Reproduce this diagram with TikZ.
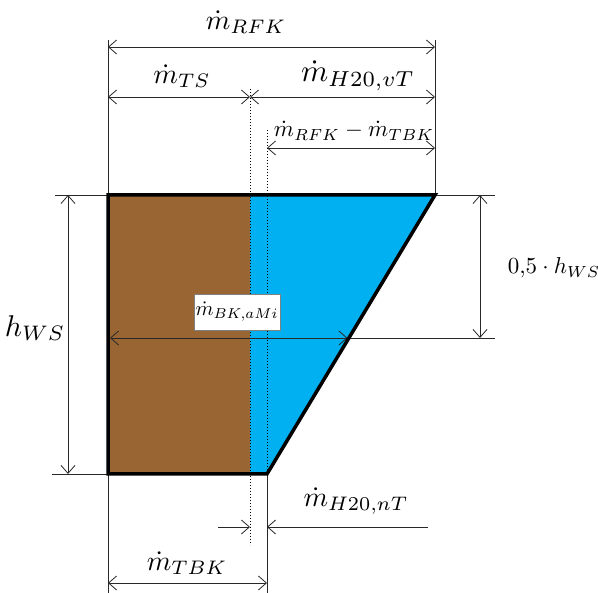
\documentclass[tikz,border=0pt]{standalone}
\usetikzlibrary{arrows.meta}
\definecolor{brownc}{RGB}{153,102,51}
\definecolor{bluec}{RGB}{0,176,240}
\definecolor{dimc}{RGB}{40,40,40}
\tikzset{
  >={Straight Barb[length=8pt,width=14pt]},
  dimline/.style={draw=dimc, line width=0.8pt},
  dimarrow/.style={dimline, <->},
  dotline/.style={draw=black, line width=1pt, dotted},
  label/.style={inner sep=0pt, anchor=center, text=black},
  sz/.style={scale=#1, transform shape},
  outline/.style={draw=black, line width=3.5pt, line join=miter}
}
\begin{document}
\begin{tikzpicture}[x=1pt,y=-1pt]
\useasboundingbox (0,0) rectangle (598,593);
% shape corners
\coordinate (TL) at (108,195);
\coordinate (TR) at (435,195);
\coordinate (BR) at (267,474);
\coordinate (BL) at (108,474);
\coordinate (TM) at (250,195);
\coordinate (BM) at (250,474);
\coordinate (MM) at (347.5,338);
% fills
\fill[brownc] (TL) rectangle (BM);
\fill[bluec] (TM) -- (TR) -- (BR) -- (BM) -- cycle;
% dotted lines
\coordinate (d1a) at (250,89);  \coordinate (d1b) at (250,545);
\coordinate (d2a) at (267,130); \coordinate (d2b) at (267,474);
\draw[dotline] (d1a) -- (d1b);
\draw[dotline] (d2a) -- (d2b);
% top extension lines and dims
\coordinate (eL) at (108,40); \coordinate (eR) at (435,40);
\draw[dimline] (eL) -- (TL);
\draw[dimline] (eR) -- (TR);
\coordinate (a1) at (108,47); \coordinate (a2) at (435,47);
\draw[dimarrow] (a1) -- (a2);
\coordinate (b1) at (108,97); \coordinate (b2) at (250,97); \coordinate (b3) at (435,97);
\draw[dimarrow] (b1) -- (b2);
\draw[dimarrow] (b2) -- (b3);
\coordinate (c1) at (267,148); \coordinate (c2) at (435,148);
\draw[dimarrow] (c1) -- (c2);
% left dimension
\coordinate (lt) at (55,195); \coordinate (lb) at (52,474);
\draw[dimline] (lt) -- (TL);
\draw[dimline] (lb) -- (BL);
\coordinate (la) at (68,195); \coordinate (lbb) at (68,474);
\draw[dimarrow] (la) -- (lbb);
% right dimension
\coordinate (rt) at (495,195); \coordinate (rm) at (495,338);
\draw[dimline] (TR) -- (rt);
\draw[dimline] (MM) -- (rm);
\coordinate (ra) at (480,195); \coordinate (rb) at (480,338);
\draw[dimarrow] (ra) -- (rb);
% middle arrow
\coordinate (m1) at (110,338);
\draw[dimarrow] (m1) -- (MM);
% bottom
\coordinate (bl) at (108,593); \coordinate (br) at (267,593);
\draw[dimline] (BL) -- (bl);
\draw[dimline] (BR) -- (br);
\coordinate (t1) at (108,583); \coordinate (t2) at (267,583);
\draw[dimarrow] (t1) -- (t2);
\coordinate (n1) at (218,527); \coordinate (n2) at (250,527);
\coordinate (n3) at (428,527); \coordinate (n4) at (267,527);
\draw[dimline,->] (n1) -- (n2);
\draw[dimline,->] (n3) -- (n4);
% outline
\draw[outline] (TL) -- (TR) -- (BR) -- (BL) -- cycle;
% labels
\node[label, sz=2.8] (Lrfk) at (246,22) {$\dot{m}_{RFK}$};
\node[label, sz=2.8] (Lts) at (182,76) {$\dot{m}_{TS}$};
\node[label, sz=3.1] (Lvt) at (358,76) {$\dot{m}_{H20,vT}$};
\node[label, sz=2.3] (Ldiff) at (354,131) {$\dot{m}_{RFK}-\dot{m}_{TBK}$};
\node[label, sz=2.3] (Lhalf) at (554,268) {$0{,}5\cdot h_{WS}$};
\node[label, sz=3.0] (Lhws) at (35,328) {$h_{WS}$};
\node[draw=gray, fill=white, line width=0.8pt, minimum width=86pt, minimum height=36pt, inner sep=0pt] (Lbk) at (237,312) {};
\node[label, sz=2.05] (Lbkt) at (Lbk.center) {$\dot{m}_{BK,aMi}$};
\node[label, sz=2.8] (Lnt) at (356,501) {$\dot{m}_{H20,nT}$};
\node[label, sz=2.8] (Ltbk) at (187,563) {$\dot{m}_{TBK}$};
\end{tikzpicture}
\end{document}
